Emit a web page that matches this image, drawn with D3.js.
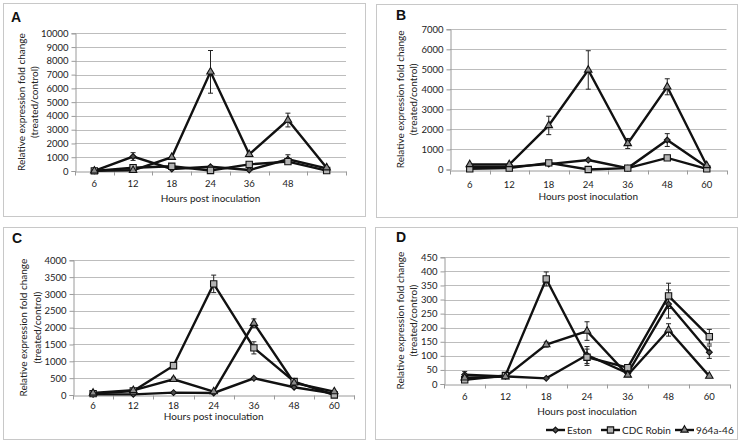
<!DOCTYPE html>
<html><head><meta charset="utf-8">
<script src="https://cdn.jsdelivr.net/npm/d3@7"></script>
<style>
body{margin:0;background:#fff;}
svg{display:block;font-family:Lato,"Liberation Sans",sans-serif;}
</style></head>
<body><svg id="c" width="742" height="444"></svg>
<script>
// ---------- data ----------
const categories = ["6","12","18","24","36","48","60"];
const xLabelsA = ["6","12","18","24","36","48",""];
const seriesNames = ["Eston","CDC Robin","964a-46"];

const estonA = [10,1050,150,310,70,850,190];
const robinA = [10,240,340,40,480,680,30];
const lineA  = [10,50,1000,7200,1210,3700,240];
const estonErrA = [0,280,0,0,0,330,0];
const robinErrA = [0,0,0,0,0,100,0];
const lineErrA  = [0,0,0,1550,150,500,0];

const estonB = [130,130,270,470,70,1470,130];
const robinB = [30,70,330,0,70,580,30];
const lineB  = [250,250,2200,4970,1300,4130,200];
const estonErrB = [0,0,0,0,0,320,0];
const robinErrB = [0,0,0,0,0,0,0];
const lineErrB  = [0,0,460,960,250,400,0];

const estonC = [20,20,70,60,495,230,40];
const robinC = [40,120,870,3300,1400,400,0];
const lineC  = [60,140,465,100,2130,360,100];
const estonErrC = [0,0,0,0,0,0,0];
const robinErrC = [0,0,0,260,180,0,0];
const lineErrC  = [0,0,60,0,130,0,0];

const estonD = [33,27,20,103,38,284,113];
const robinD = [15,30,373,95,58,313,168];
const lineD  = [22,26,140,188,32,192,28];
const estonErrD = [11,0,0,30,0,50,22];
const robinErrD = [0,0,25,29,0,45,26];
const lineErrD  = [0,0,9,33,0,22,0];

const yMaxA = 10000, yStepA = 1000;
const yMaxB = 7000,  yStepB = 1000;
const yMaxC = 4000,  yStepC = 500;
const yMaxD = 450,   yStepD = 50;

// ---------- layout ----------
const panels = [
  {letter:"A", frame:[3,3,365,216], plot:[75,33.3,346,171], yMax:yMaxA, yStep:yStepA, labels:xLabelsA,
   vals:[estonA,robinA,lineA], errs:[estonErrA,robinErrA,lineErrA], tx:[53,40], lblDy:15, titleY:202, letterPos:[11,22]},
  {letter:"B", frame:[376,4,737,217], plot:[450,29.3,726.5,169.5], yMax:yMaxB, yStep:yStepB, labels:categories,
   vals:[estonB,robinB,lineB], errs:[estonErrB,robinErrB,lineErrB], tx:[49,36], lblDy:17, titleY:200, letterPos:[396,20]},
  {letter:"C", frame:[3,227,365,439], plot:[73,260.3,354.4,395], yMax:yMaxC, yStep:yStepC, labels:categories,
   vals:[estonC,robinC,lineC], errs:[estonErrC,robinErrC,lineErrC], tx:[49,35.5], lblDy:12.5, titleY:419.5, letterPos:[12,243]},
  {letter:"D", frame:[375,227,737,439], plot:[444.3,257.3,729.7,384], yMax:yMaxD, yStep:yStepD, labels:categories,
   vals:[estonD,robinD,lineD], errs:[estonErrD,robinErrD,lineErrD], tx:[43,30.5], lblDy:15, titleY:415, letterPos:[396,242]}
];

const svg = d3.select("#c");
const FS = 9.5;
const markerFill = ["#4d4d4d","#b3b3b3","#8c8c8c"];
const sym = [
  d3.symbol().type(d3.symbolDiamond2).size(22),
  d3.symbol().type(d3.symbolSquare).size(40),
  d3.symbol().type(d3.symbolTriangle).size(24)
];

function drawMarker(g, i, x, y){
  g.append("path").attr("d", sym[i]()).attr("transform",`translate(${x},${y})`)
    .attr("fill", markerFill[i]).attr("stroke","#111").attr("stroke-width",1.1);
}

panels.forEach(p => {
  const g = svg.append("g");
  const [fx0,fy0,fx1,fy1] = p.frame;
  g.append("rect").attr("x",fx0+0.5).attr("y",fy0+0.5).attr("width",fx1-fx0).attr("height",fy1-fy0)
    .attr("fill","#fff").attr("stroke","#c8c8c8").attr("stroke-width",1);
  g.append("text").attr("x",p.letterPos[0]).attr("y",p.letterPos[1]).text(p.letter)
    .attr("font-family","'Liberation Sans',Arial,sans-serif").attr("font-weight","bold").attr("font-size",14).attr("fill","#111");

  const [x0,y0,x1,y1] = p.plot;
  const x = d3.scaleBand().domain(categories).range([x0,x1]).padding(0);
  const y = d3.scaleLinear().domain([0,p.yMax]).range([y1,y0]);
  const ticks = d3.range(0, p.yMax + p.yStep/2, p.yStep);

  // gridlines
  g.append("g").selectAll("line").data(ticks.slice(1)).join("line")
    .attr("x1",x0).attr("x2",x1).attr("y1",d=>Math.round(y(d))+0.5).attr("y2",d=>Math.round(y(d))+0.5)
    .attr("stroke","#bdbdbd").attr("stroke-width",1.2);

  // y axis
  const ya = g.append("g").attr("transform",`translate(${Math.round(x0)+0.5},0)`)
    .call(d3.axisLeft(y).tickValues(ticks).tickSize(4).tickPadding(3).tickFormat(d3.format("d")));
  ya.select(".domain").attr("stroke","#9a9a9a");
  ya.selectAll(".tick line").attr("stroke","#9a9a9a");
  ya.selectAll("text").attr("font-size",FS).attr("fill","#222").attr("font-family","Lato,sans-serif");

  // x axis
  const xa = g.append("g").attr("transform",`translate(0,${Math.round(y1)+0.5})`)
    .call(d3.axisBottom(x).tickSize(0).tickPadding(p.lblDy-6).tickFormat((d,i)=>p.labels[i]));
  xa.select(".domain").attr("stroke","#9a9a9a");
  xa.selectAll("text").attr("font-size",FS).attr("fill","#222").attr("font-family","Lato,sans-serif");
  const bounds = categories.map(c=>x(c)).concat([x1]);
  xa.append("g").selectAll("line").data(bounds).join("line")
    .attr("x1",d=>Math.round(d)+0.5).attr("x2",d=>Math.round(d)+0.5).attr("y1",0).attr("y2",4)
    .attr("stroke","#9a9a9a");

  // axis titles
  const ymid = (y0+y1)/2;
  ["Relative expression fold change","(treated/control)"].forEach((t,k)=>{
    g.append("text").attr("transform",`translate(${x0-p.tx[k]+3},${ymid}) rotate(-90)`)
      .attr("text-anchor","middle").attr("font-size",FS+0.5).attr("fill","#222").text(t);
  });
  g.append("text").attr("x",(x0+x1)/2).attr("y",p.titleY).attr("text-anchor","middle")
    .attr("font-size",FS+0.5).attr("fill","#222").text("Hours post inoculation");

  const cx = c => x(c) + x.bandwidth()/2;
  const line = d3.line().x((d,i)=>cx(categories[i])).y(d=>y(d));
  p.vals.forEach((v,i)=>{
    g.append("path").attr("d",line(v)).attr("fill","none").attr("stroke","#111")
      .attr("stroke-width",2.4).attr("stroke-linejoin","miter");
  });
  p.vals.forEach((v,i)=>{
    v.forEach((val,j)=>{
      const e = p.errs[i][j];
      if(!e) return;
      const xx = cx(categories[j]);
      const eb = g.append("g").attr("stroke","#222").attr("stroke-width",1);
      eb.append("line").attr("x1",xx).attr("x2",xx).attr("y1",y(val+e)).attr("y2",y(Math.max(0,val-e)));
      eb.append("line").attr("x1",xx-2.5).attr("x2",xx+2.5).attr("y1",y(val+e)).attr("y2",y(val+e));
      eb.append("line").attr("x1",xx-2.5).attr("x2",xx+2.5).attr("y1",y(Math.max(0,val-e))).attr("y2",y(Math.max(0,val-e)));
    });
  });
  p.vals.forEach((v,i)=>{
    v.forEach((val,j)=> drawMarker(g, i, cx(categories[j]), y(val)));
  });

  if(p.letter==="D"){
    const legX = [546, 601, 675];
    const ly = 430;
    seriesNames.forEach((n,i)=>{
      const lg = g.append("g");
      lg.append("line").attr("x1",legX[i]).attr("x2",legX[i]+19).attr("y1",ly).attr("y2",ly)
        .attr("stroke","#111").attr("stroke-width",2.4);
      drawMarker(lg, i, legX[i]+9.5, ly);
      lg.append("text").attr("x",legX[i]+21).attr("y",ly+3.5).attr("font-size",FS+0.5).attr("fill","#222").text(n);
    });
  }
});
</script></body></html>
